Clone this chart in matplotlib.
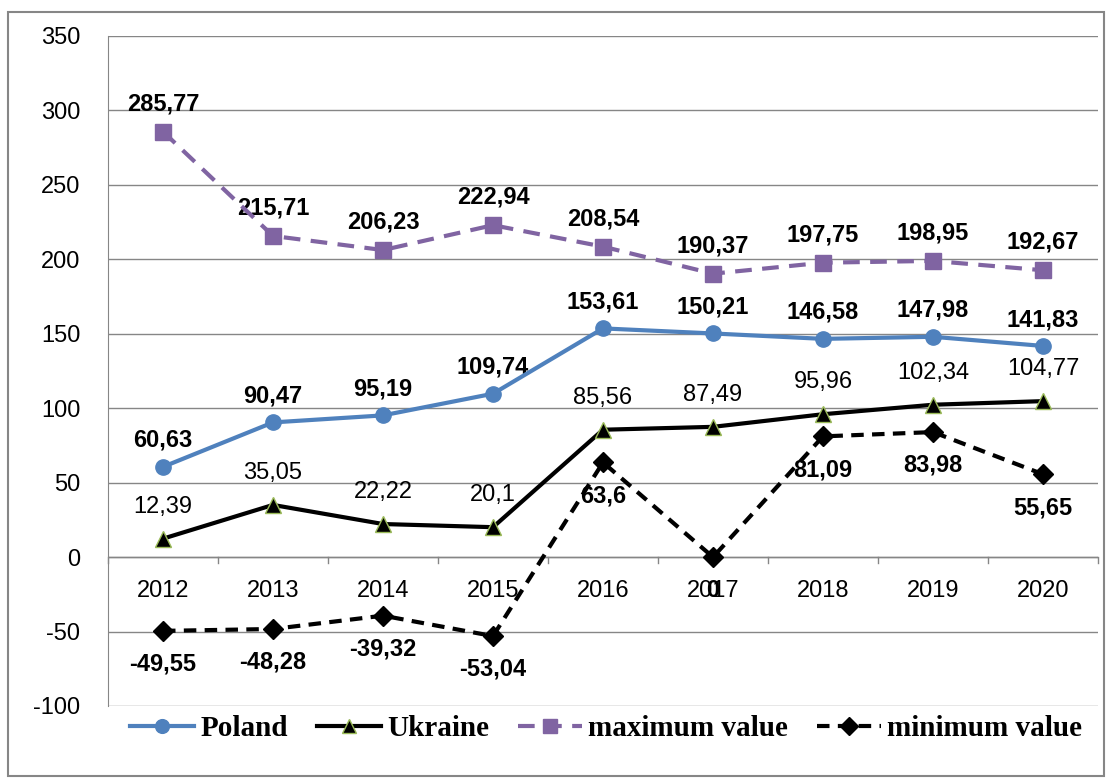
import numpy as np
from matplotlib import pyplot as plt
from matplotlib.patches import Rectangle

years = ['2012', '2013', '2014', '2015', '2016', '2017', '2018', '2019', '2020']
poland = [60.63, 90.47, 95.19, 109.74, 153.61, 150.21, 146.58, 147.98, 141.83]
ukraine = [12.39, 35.05, 22.22, 20.1, 85.56, 87.49, 95.96, 102.34, 104.77]
max_value = [285.77, 215.71, 206.23, 222.94, 208.54, 190.37, 197.75, 198.95, 192.67]
min_value = [-49.55, -48.28, -39.32, -53.04, 63.6, 0, 81.09, 83.98, 55.65]

plt.rcParams['axes.unicode_minus'] = False


def fmt(v):
    s = ('%.2f' % v).rstrip('0').rstrip('.')
    return s.replace('.', ',')


def put_labels(ax, x, vals, dy, bold):
    for xi, v in zip(x, vals):
        ax.annotate(fmt(v), xy=(xi, v), xytext=(0, dy), textcoords='offset points',
                    ha='center', va='center', fontsize=17,
                    fontweight='bold' if bold else 'normal',
                    family='Liberation Sans', color='black')


my_dpi = 100
fig = plt.figure(figsize=(1112 / my_dpi, 778 / my_dpi), dpi=my_dpi)
ax = fig.add_axes([108 / 1112, 1 - 706 / 778, (1098 - 108) / 1112, (706 - 36) / 778])

x = np.arange(len(years))

ax.plot(x, poland, color='#4F81BD', lw=3, marker='o', ms=11, label='Poland', zorder=4)
ax.plot(x, ukraine, color='black', lw=3, marker='^', ms=11, mfc='black',
        mec='#9BBB59', mew=1, label='Ukraine', zorder=4)
ax.plot(x, max_value, color='#8064A2', lw=3, ls=(0, (4, 2.5)), marker='s', ms=11,
        label='maximum value', zorder=4)
ax.plot(x, min_value, color='black', lw=3, ls=(0, (3, 2)), marker='D', ms=10,
        label='minimum value', zorder=4)

put_labels(ax, x, poland, 19, True)
put_labels(ax, x, ukraine, 23, False)
put_labels(ax, x, max_value, 20, True)
put_labels(ax, x, min_value, -24, True)

ax.set_xlim(-0.5, len(years) - 0.5)
ax.set_ylim(-100, 350)
ax.set_yticks(np.arange(-100, 351, 50))
ax.grid(axis='y', color='#868686', lw=1)
ax.set_axisbelow(True)
ax.tick_params(axis='y', length=0, labelsize=17, pad=20)
for lbl in ax.get_yticklabels():
    lbl.set_family('Liberation Sans')

for side in ['top', 'right', 'bottom']:
    ax.spines[side].set_visible(False)
ax.spines['left'].set_color('#868686')

# category axis crossing at zero
ax.axhline(0, color='#868686', lw=1, zorder=1)
ax.set_xticks([])
for b in np.arange(-0.5, len(years), 1):
    ax.plot([b, b], [0, -4], color='#868686', lw=1, zorder=1, clip_on=False)
for xi, yr in zip(x, years):
    ax.text(xi, -23, yr, ha='center', va='center', fontsize=17, family='Liberation Sans')

leg = fig.legend(loc='center', bbox_to_anchor=(0.545, 1 - 729 / 778), ncol=4, frameon=False,
                 prop={'family': 'Liberation Serif', 'weight': 'bold', 'size': 21},
                 handlelength=2.2, columnspacing=1.0, handletextpad=0.2, markerscale=0.9)

fig.patches.append(Rectangle((8 / 1112, 0.002), 1096 / 1112, 1 - 12 / 778 - 0.002,
                             transform=fig.transFigure, fill=False,
                             edgecolor='#868686', lw=1.5))

fig.savefig('out.png', dpi=my_dpi)
